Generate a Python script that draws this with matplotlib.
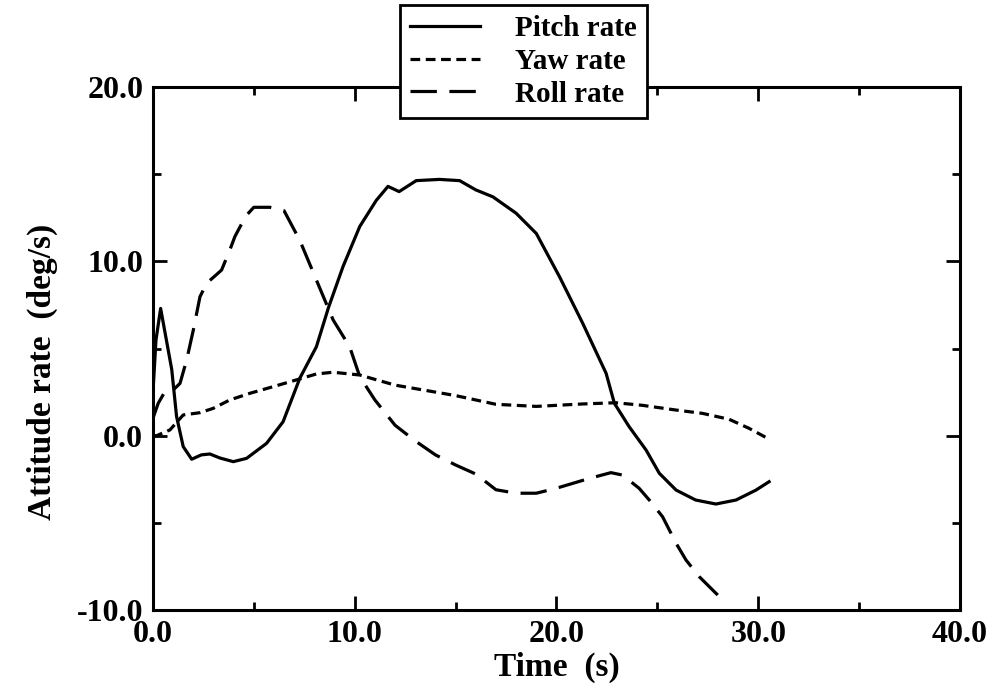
import numpy as np
import matplotlib
matplotlib.use("Agg")
import matplotlib.pyplot as plt
from matplotlib.ticker import MultipleLocator, FormatStrFormatter

plt.rcParams['font.family'] = ['Liberation Serif', 'DejaVu Serif']
plt.rcParams['font.weight'] = 'bold'
plt.rcParams['lines.scale_dashes'] = False

# time histories (s, deg/s)
pitch_t = [0.0, 0.15, 0.38, 0.93, 1.17, 1.5, 1.92, 2.4, 2.82, 3.32, 3.98, 4.64, 5.63,
           6.45, 7.28, 8.1, 8.7, 9.42, 10.25, 11.07, 11.65, 12.2, 13.05, 14.2, 15.2,
           16.0, 16.85, 18.0, 19.0, 20.15, 21.3, 22.46, 22.87, 23.6, 24.44, 25.1,
           25.93, 26.9, 27.9, 28.9, 29.89, 30.54]
pitch = [2.5, 5.5, 7.3, 3.8, 1.1, -0.63, -1.35, -1.1, -1.05, -1.28, -1.49, -1.3, -0.44,
         0.8, 3.3, 5.1, 7.35, 9.7, 12.0, 13.5, 14.3, 14.0, 14.63, 14.7, 14.63,
         14.1, 13.7, 12.76, 11.6, 9.12, 6.45, 3.58, 1.86, 0.52, -0.82, -2.16,
         -3.12, -3.69, -3.92, -3.69, -3.12, -2.64]

yaw_t = [0.0, 0.18, 0.84, 1.5, 2.33, 2.99, 3.81, 4.8, 5.95, 7.11, 8.1, 8.93, 10.25,
         12.0, 15.0, 17.0, 19.0, 21.3, 22.95, 24.27, 25.93, 27.24, 28.56, 29.55, 30.46]
yaw = [0.0, 0.0, 0.33, 1.19, 1.32, 1.57, 2.05, 2.43, 2.81, 3.2, 3.54, 3.64, 3.48,
       2.9, 2.3, 1.8, 1.68, 1.82, 1.89, 1.74, 1.47, 1.28, 0.94, 0.42, -0.15]

roll_t = [0.0, 0.26, 0.59, 1.0, 1.34, 1.67, 2.0, 2.33, 2.66, 3.4, 3.81, 4.06, 4.6,
          5.0, 5.8, 6.5, 7.28, 8.1, 8.93, 9.75, 10.25, 11.0, 12.0, 13.0, 14.0,
          15.0, 16.0, 17.0, 18.0, 19.0, 19.98, 21.63, 22.7, 23.28, 24.1, 24.6,
          25.26, 25.93, 26.42, 27.08, 27.74, 28.4]
roll = [1.0, 1.86, 2.52, 2.62, 3.0, 4.34, 6.06, 7.97, 8.74, 9.5, 10.65, 11.42, 12.6,
        13.1, 13.1, 12.9, 11.2, 8.93, 6.64, 5.1, 3.39, 2.05, 0.6, -0.3, -1.1,
        -1.68, -2.2, -3.1, -3.3, -3.3, -3.02, -2.45, -2.12, -2.26, -3.02, -3.69,
        -4.65, -6.17, -7.13, -8.09, -8.85, -9.6]

fig = plt.figure(figsize=(9.92, 6.9), dpi=100)
ax = fig.add_axes([0.1542, 0.1159, 0.8135, 0.758])

lw = 2.3
ax.plot(pitch_t, pitch, color='black', lw=lw, label='Pitch rate')
ax.plot(yaw_t, yaw, color='black', lw=lw, linestyle=(0, (7, 4)), label='Yaw rate')
ax.plot(roll_t, roll, color='black', lw=lw, linestyle=(0, (19, 9)), label='Roll rate')

ax.set_xlim(0, 40)
ax.set_ylim(-10, 20)
ax.xaxis.set_major_locator(MultipleLocator(10))
ax.xaxis.set_minor_locator(MultipleLocator(5))
ax.yaxis.set_major_locator(MultipleLocator(10))
ax.yaxis.set_minor_locator(MultipleLocator(5))
ax.xaxis.set_major_formatter(FormatStrFormatter('%.1f'))
ax.yaxis.set_major_formatter(FormatStrFormatter('%.1f'))
ax.tick_params(which='both', direction='in', top=True, right=True, width=2,
               labelsize=23)
ax.tick_params(axis='y', pad=7)
ax.tick_params(axis='x', pad=7)
ax.tick_params(which='major', length=10)
ax.tick_params(which='minor', length=6)
for s in ax.spines.values():
    s.set_linewidth(2.2)

ax.set_xlabel('Time  (s)', fontsize=24, fontweight='bold', labelpad=2)
ax.set_ylabel('Attitude rate  (deg/s)', fontsize=24, fontweight='bold')
ax.yaxis.set_label_coords(-0.118, 0.455)

leg = fig.legend(loc='upper center', bbox_to_anchor=(0.528, 0.993),
                 fontsize=21, frameon=True, fancybox=False, handlelength=2.4,
                 borderpad=0.35, labelspacing=0.2, handletextpad=1.2,
                 borderaxespad=0)
leg.get_frame().set_edgecolor('black')
leg.get_frame().set_linewidth(2)
leg.get_frame().set_alpha(1)
leg.set_zorder(10)

fig.savefig('out.png', dpi=100)
